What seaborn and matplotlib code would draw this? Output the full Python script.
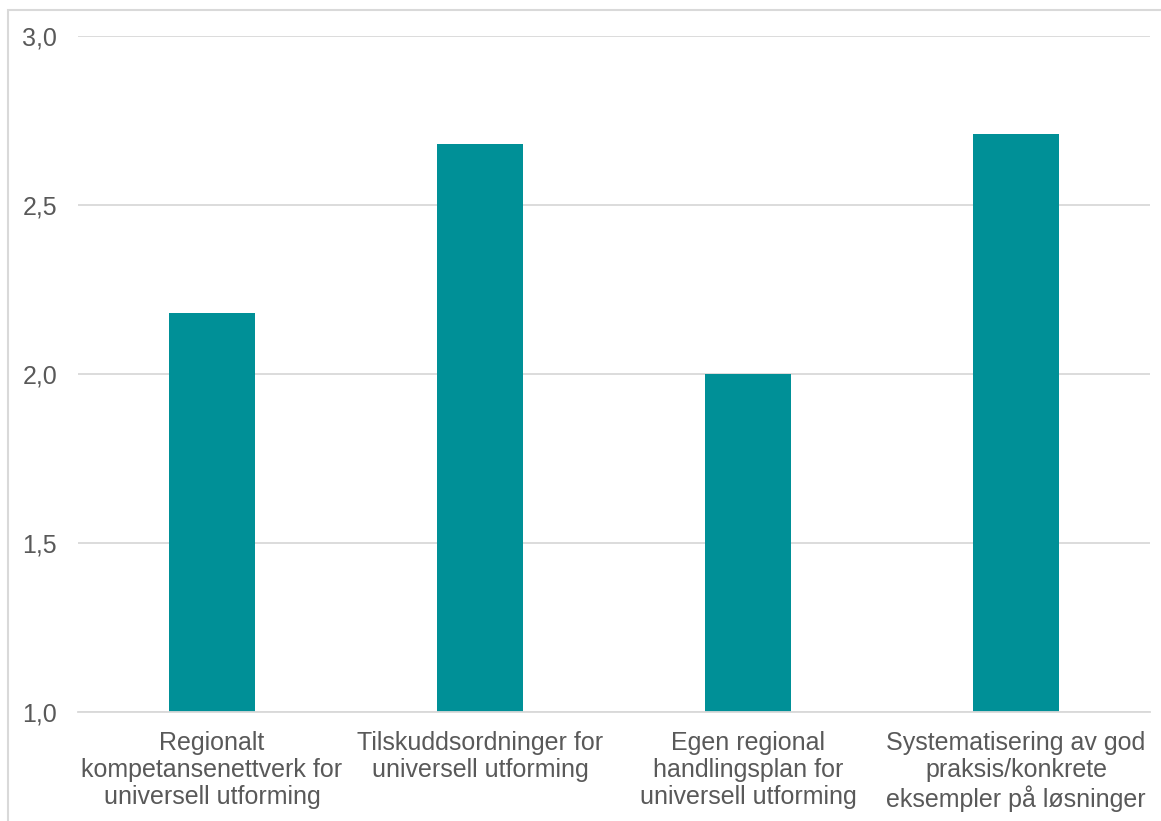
import matplotlib
matplotlib.use('Agg')
import matplotlib.pyplot as plt
import seaborn as sns
import pandas as pd
from matplotlib.patches import Rectangle

categories = [
    'Regionalt\nkompetansenettverk for\nuniversell utforming',
    'Tilskuddsordninger for\nuniversell utforming',
    'Egen regional\nhandlingsplan for\nuniversell utforming',
    'Systematisering av god\npraksis/konkrete\neksempler på løsninger',
]
values = [2.18, 2.68, 2.00, 2.71]
yticks = [1.0, 1.5, 2.0, 2.5, 3.0]
ytick_labels = ['1,0', '1,5', '2,0', '2,5', '3,0']

df = pd.DataFrame({'kategori': categories, 'verdi': values})

sns.set_style('white')
plt.rcParams['font.family'] = ['Liberation Sans', 'DejaVu Sans']

fig = plt.figure(figsize=(11.61, 8.21), dpi=100)
ax = fig.add_axes([78 / 1161, 1 - 712 / 821, (1150 - 78) / 1161, (712 - 36) / 821])

sns.barplot(data=df, x='kategori', y='verdi', color='#009097', width=0.32,
            saturation=1, ax=ax)
# bars start at the 1.0 baseline
for patch, v in zip(ax.patches, values):
    patch.set_y(1.0)
    patch.set_height(v - 1.0)
    patch.set_edgecolor('none')

ax.set_ylim(1.0, 3.0)
ax.set_xlim(-0.5, 3.5)
ax.set_yticks(yticks)
ax.set_yticklabels(ytick_labels)
ax.yaxis.grid(True, color='#d9d9d9', linewidth=1.3)
ax.set_axisbelow(True)
for s in ['top', 'right', 'left']:
    ax.spines[s].set_visible(False)
ax.spines['bottom'].set_color('#d9d9d9')
ax.spines['bottom'].set_linewidth(1.3)
ax.set_xlabel('')
ax.set_ylabel('')
ax.tick_params(axis='both', length=0, labelsize=18, colors='#595959')
ax.tick_params(axis='y', pad=15)
ax.tick_params(axis='x', pad=14)
for lbl in ax.get_xticklabels():
    lbl.set_linespacing(1.14)

# outer frame
fig.patches.append(Rectangle((8 / 1161, -0.05), 1.2, 1 - 10 / 821 + 0.05,
                             transform=fig.transFigure, fill=False,
                             edgecolor='#d9d9d9', linewidth=1.5))

fig.savefig('out.png', dpi=100)
